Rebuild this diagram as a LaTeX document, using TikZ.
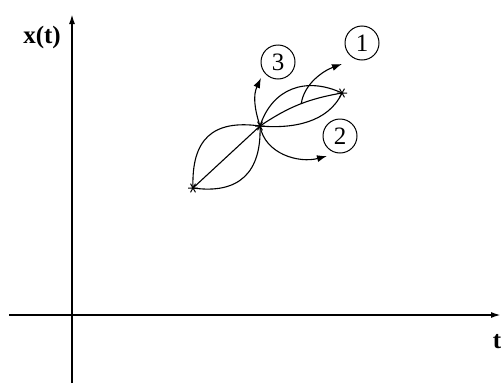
\documentclass[tikz,border=0pt]{standalone}
\usepackage{fontspec}
\setmainfont{Liberation Serif}
\usetikzlibrary{arrows.meta}
\begin{document}
\begin{tikzpicture}[x=1pt,y=1pt,
  curve/.style={line width=1.1pt},
  axis/.style={line width=1.8pt,-{Latex[length=10pt,width=6pt]}},
  arr/.style={curve,-{Latex[length=10pt,width=7pt]}},
  num/.style={draw,circle,line width=1pt,minimum size=34pt,inner sep=0pt,font=\fontsize{25}{25}\selectfont},
  lab/.style={inner sep=0pt,font=\fontsize{25}{25}\selectfont\bfseries},
  starline/.style={line width=1pt}]
\useasboundingbox (0,0) rectangle (502,-383);
% axes
\coordinate (yb) at (72,-383);
\coordinate (yt) at (72,-14);
\coordinate (xl) at (9,-315);
\coordinate (xr) at (501,-315);
\draw[axis] (yb) -- (yt);
\draw[axis] (xl) -- (xr);
\node[lab] (xlab) at (42,-37) {x(t)};
\node[lab,anchor=east] (tlab) at (501.5,-342) {t};
% points
\coordinate (P1) at (193,-188);
\coordinate (P2) at (260,-126);
\coordinate (P3) at (342,-93);
% lens 1
\draw[curve] (P1) to[out=92,in=172,looseness=1.35] (P2);
\draw[curve] (P1) to[out=-8,in=-88,looseness=1.3] (P2);
\draw[curve] (P1) -- (P2);
% lens 2
\draw[curve] (P2) to[out=72,in=155,looseness=1.15] (P3);
\draw[curve] (P2) to[out=-5,in=-115,looseness=0.95] (P3);
\draw[curve] (P2) to[bend left=12] coordinate[pos=0.53] (s1) (P3);
% stars
\foreach \p in {P1,P2,P3}{
  \draw[starline,shift={(\p)}] (-5,0) -- (5,0) (60:5) -- (240:5) (120:5) -- (300:5);
}
% numbered circles
\node[num] (c1) at (362,-43) {1};
\node[num] (c2) at (340,-136) {2};
\node[num] (c3) at (278,-62) {3};
% arrows
\coordinate (t1) at (342,-64);
\coordinate (t2) at (327,-156);
\coordinate (t3) at (261,-78);
\draw[arr] (s1) to[out=82,in=200,looseness=0.9] (t1);
\draw[arr] (P2) to[out=-80,in=195,looseness=1.0] (t2);
\draw[arr] (P2) to[out=108,in=245,looseness=1.0] (t3);
\end{tikzpicture}
\end{document}
